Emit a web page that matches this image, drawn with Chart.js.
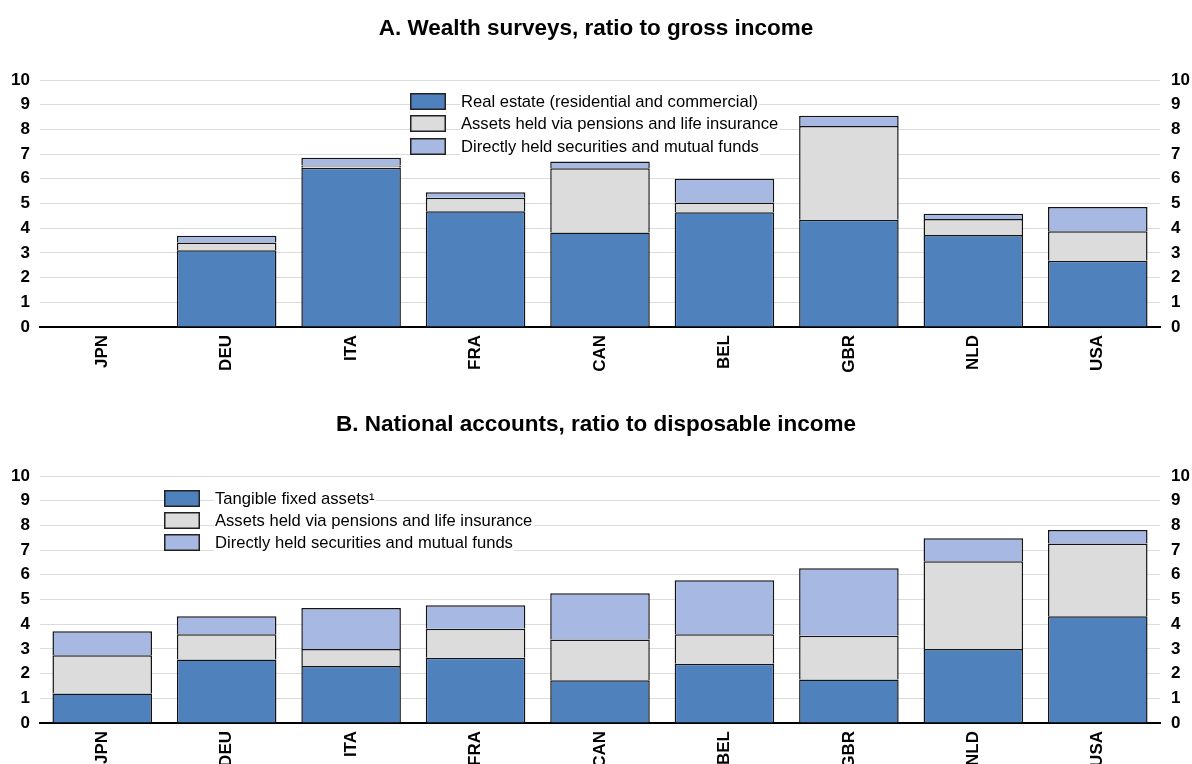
<!DOCTYPE html>
<html>
<head>
<meta charset="utf-8">
<script src="https://cdn.jsdelivr.net/npm/chart.js@4.4.0/dist/chart.umd.min.js"></script>
<style>
    html, body { margin: 0; padding: 0; background: #fff; overflow: hidden; }
    .panel { position: absolute; left: 0; width: 1192px; height: 385px; }
    #panelA { top: 0; }
    #panelB { top: 396px; }
</style>
</head>
<body>
<div class="panel" id="panelA"><canvas id="chartA"></canvas></div>
<div class="panel" id="panelB"><canvas id="chartB"></canvas></div>
<script>
const countries = ['JPN', 'DEU', 'ITA', 'FRA', 'CAN', 'BEL', 'GBR', 'NLD', 'USA'];

// Panel A: wealth surveys, ratio to gross income
const surveyRealEstate = [null, 3.11, 6.45, 4.69, 3.83, 4.65, 4.34, 3.72, 2.68];
const surveyPensions   = [null, 0.31, 0.09, 0.54, 2.60, 0.39, 3.80, 0.65, 1.20];
const surveySecurities = [null, 0.27, 0.31, 0.23, 0.27, 0.96, 0.41, 0.21, 0.98];
const surveyLabels = [
    'Real estate (residential and commercial)',
    'Assets held via pensions and life insurance',
    'Directly held securities and mutual funds'
];

// Panel B: national accounts, ratio to disposable income
const accountsTangible   = [1.19, 2.57, 2.31, 2.64, 1.73, 2.40, 1.76, 3.00, 4.32];
const accountsPensions   = [1.55, 1.02, 0.69, 1.18, 1.65, 1.19, 1.77, 3.55, 2.95];
const accountsSecurities = [0.97, 0.73, 1.66, 0.95, 1.87, 2.19, 2.74, 0.93, 0.54];
const accountsLabels = [
    'Tangible fixed assets\u00B9',
    'Assets held via pensions and life insurance',
    'Directly held securities and mutual funds'
];

const seriesColors = ['#4F81BD', '#DCDCDC', '#A7B8E2'];
const FONT = "'Liberation Sans', Arial, sans-serif";

Chart.defaults.font.family = FONT;
Chart.defaults.color = '#000';

// legend drawn inside the plot, like the original
const boxLegend = {
    id: 'boxLegend',
    afterDraw(chart, args, opts) {
        const ctx = chart.ctx;
        ctx.save();
        ctx.font = opts.fontSize + 'px ' + FONT;
        chart.data.datasets.forEach((ds, i) => {
            const y = Math.round(opts.top + i * opts.rowGap);
            const mid = y + opts.boxH / 2;
            // white behind the text only, grid still shows around it
            ctx.fillStyle = '#fff';
            ctx.fillRect(opts.textX - 1, mid - 11, ctx.measureText(ds.label).width + 2, 22);
            ctx.fillStyle = ds.backgroundColor;
            ctx.fillRect(opts.left, y, opts.boxW, opts.boxH);
            ctx.strokeStyle = '#222';
            ctx.lineWidth = 1.5;
            ctx.strokeRect(opts.left + 0.75, y + 0.75, opts.boxW - 1.5, opts.boxH - 1.5);
            ctx.fillStyle = '#000';
            ctx.textBaseline = 'middle';
            ctx.fillText(ds.label, opts.textX, mid + 1);
        });
        ctx.restore();
    }
};

function tickFont() {
    return { family: FONT, size: 17, weight: 'bold' };
}

function makePanel(canvasId, title, labels, series, legendPos) {
    const ctx = document.getElementById(canvasId).getContext('2d');
    return new Chart(ctx, {
        type: 'bar',
        data: {
            labels: countries,
            datasets: series.map((data, i) => ({
                label: labels[i],
                data: data,
                backgroundColor: seriesColors[i],
                borderColor: '#141414',
                borderWidth: 1.5,
                barPercentage: 0.8,
                categoryPercentage: 1.0
            }))
        },
        plugins: [boxLegend],
        options: {
            responsive: true,
            maintainAspectRatio: false,
            animation: false,
            plugins: {
                legend: { display: false },
                tooltip: { enabled: false },
                title: {
                    display: true,
                    text: title,
                    color: '#000',
                    font: { family: FONT, size: 22.5, weight: 'bold' },
                    padding: { top: 15, bottom: 38 }
                },
                boxLegend: legendPos
            },
            scales: {
                x: {
                    stacked: true,
                    grid: { display: false, drawTicks: false },
                    border: { color: '#000', width: 2 },
                    ticks: { minRotation: 90, maxRotation: 90, padding: 8, font: tickFont() },
                    afterFit: function(scale) { scale.height = 58; }
                },
                y: {
                    stacked: true,
                    min: 0,
                    max: 10,
                    grid: { color: '#dcdcdc', lineWidth: 1, drawTicks: false },
                    border: { display: false },
                    ticks: { stepSize: 1, padding: 10, font: tickFont() },
                    afterFit: function(scale) { scale.width = 40; }
                },
                y2: {
                    position: 'right',
                    min: 0,
                    max: 10,
                    grid: { display: false, drawTicks: false },
                    border: { display: false },
                    ticks: { stepSize: 1, padding: 11, font: tickFont() },
                    afterFit: function(scale) { scale.width = 32; }
                }
            }
        }
    });
}

makePanel('chartA', 'A. Wealth surveys, ratio to gross income', surveyLabels,
    [surveyRealEstate, surveyPensions, surveySecurities],
    { left: 410, top: 93, boxW: 36, boxH: 17, rowGap: 22.3, textX: 461, fontSize: 16.6 });

makePanel('chartB', 'B. National accounts, ratio to disposable income', accountsLabels,
    [accountsTangible, accountsPensions, accountsSecurities],
    { left: 164, top: 94, boxW: 36, boxH: 17, rowGap: 22, textX: 215, fontSize: 16.6 });
</script>
</body>
</html>
